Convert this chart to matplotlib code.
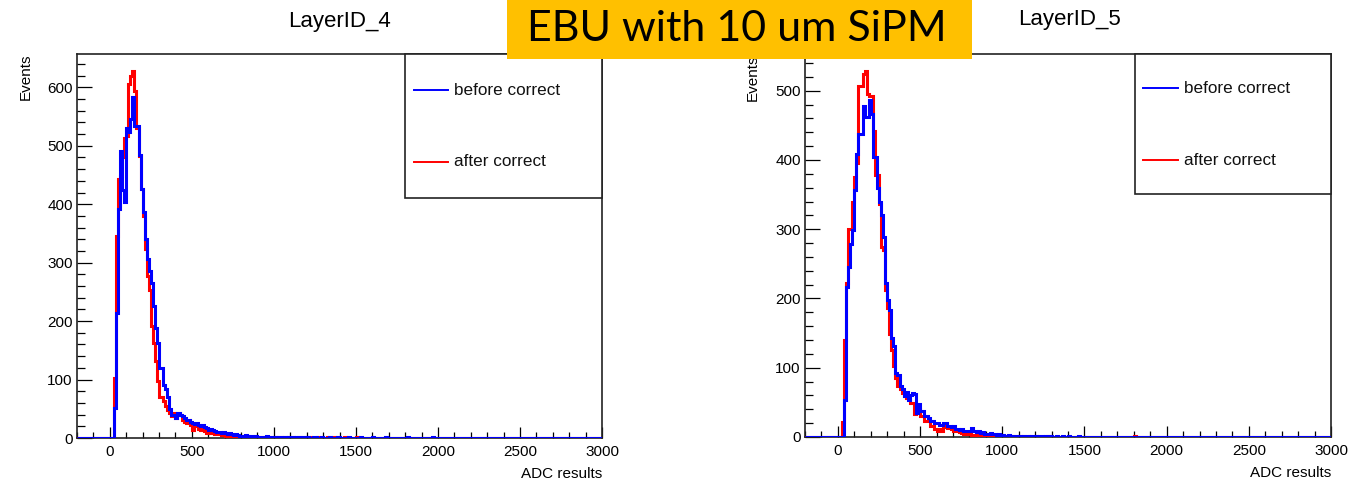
import numpy as np
import matplotlib
matplotlib.use("Agg")
import matplotlib.pyplot as plt
from matplotlib.patches import Rectangle
from matplotlib.ticker import MultipleLocator

plt.rcParams['font.family'] = ['Liberation Sans', 'DejaVu Sans']

# ---------------- data ----------------
x_min, x_max, bin_width = -200.0, 3000.0, 12.5
core_start = 25.0      # first bin edge of the "core" arrays
tail_start = 1000.0    # first bin edge of the "tail" arrays

titles = ["LayerID_4", "LayerID_5"]
legend_labels = ["before correct", "after correct"]
x_label = "ADC results"
y_label = "Events"
banner = "EBU with 10 um SiPM"
x_ticks = [0, 500, 1000, 1500, 2000, 2500, 3000]

# LayerID_4 : counts per 12.5-wide bin, from 25 to 1000
l4_before = [51, 214, 391, 491, 425, 403, 531, 523, 546, 583,
             534, 534, 484, 426, 386, 340, 306, 286, 266, 226,
             189, 163, 120, 120, 91, 83, 71, 49, 40, 40,
             34, 43, 40, 37, 35, 31, 30, 28, 26, 24,
             25, 22, 20, 23, 18, 17, 14, 16, 13, 12,
             11, 10, 9, 11, 8, 7, 8, 6, 5, 6,
             5, 4, 4, 3, 5, 3, 2, 3, 2, 3,
             2, 2, 1, 2, 3, 1, 2, 1]
l4_after = [103, 346, 443, 449, 480, 514, 517, 606, 620, 628,
            594, 531, 483, 426, 380, 323, 277, 254, 191, 163,
            131, 97, 71, 71, 63, 55, 48, 42, 38, 42,
            35, 43, 40, 31, 28, 26, 30, 22, 14, 20,
            23, 16, 14, 15, 12, 9, 10, 8, 9, 6,
            7, 6, 5, 6, 4, 5, 3, 4, 3, 2,
            3, 2, 2, 3, 1, 2, 1, 2, 1, 1,
            2, 1, 0, 1, 1, 0, 1, 0]
# LayerID_4 tails, from 1000 to 2000
l4_before_tail = [1, 2, 1, 1, 2, 1, 0, 1, 1, 1, 0, 1, 0, 2, 1, 0, 1, 0, 0, 1,
                  1, 0, 0, 1, 0, 0, 0, 1, 0, 0, 0, 1, 0, 0, 0, 0, 1, 0, 0, 0,
                  0, 0, 1, 0, 0, 0, 0, 0, 1, 0, 0, 0, 0, 0, 1, 0, 0, 0, 0, 0,
                  0, 0, 0, 0, 0, 1, 0, 0, 0, 0, 0, 0, 0, 0, 0, 0, 0, 1, 0, 0]
l4_after_tail = [1, 0, 1, 1, 0, 1, 1, 0, 0, 1, 0, 0, 1, 0, 0, 1, 0, 1, 0, 0,
                 0, 1, 0, 0, 0, 0, 1, 0, 0, 1, 0, 0, 0, 0, 1, 0, 0, 0, 0, 0,
                 1, 0, 0, 0, 0, 0, 0, 0, 0, 0, 0, 0, 0, 0, 0, 0, 0, 0, 0, 0,
                 0, 0, 0, 0, 0, 0, 0, 0, 0, 0, 0, 0, 0, 0, 0, 0, 0, 0, 0, 0]

# LayerID_5 : counts per 12.5-wide bin, from 25 to 1000
l5_before = [0, 54, 217, 246, 279, 299, 356, 409, 438, 438,
             478, 462, 462, 486, 466, 404, 404, 360, 339, 320,
             289, 222, 198, 184, 143, 131, 93, 90, 73, 69,
             59, 65, 54, 61, 64, 62, 35, 47, 38, 38,
             30, 30, 28, 23, 23, 20, 20, 18, 18, 20,
             20, 16, 16, 14, 16, 11, 11, 10, 11, 9,
             9, 8, 9, 13, 9, 7, 8, 6, 7, 5,
             5, 4, 6, 4, 4, 3, 4, 3]
l5_after = [21, 140, 222, 301, 301, 340, 375, 395, 507, 507,
            524, 529, 495, 493, 493, 442, 378, 378, 337, 275,
            270, 212, 186, 148, 126, 102, 85, 73, 70, 63,
            61, 57, 57, 49, 49, 33, 40, 40, 30, 30,
            23, 23, 23, 16, 16, 12, 9, 11, 9, 17,
            15, 13, 13, 11, 9, 9, 8, 7, 6, 5,
            5, 4, 4, 3, 3, 2, 3, 2, 2, 1,
            2, 1, 1, 1, 1, 0, 1, 0]
# LayerID_5 tails, from 1000 to 2000
l5_before_tail = [3, 2, 2, 3, 1, 2, 2, 1, 2, 1, 1, 2, 1, 0, 1, 1, 1, 0, 1, 1,
                  0, 1, 0, 1, 0, 0, 1, 0, 0, 1, 0, 0, 1, 0, 0, 0, 0, 1, 0, 0,
                  0, 0, 0, 0, 0, 0, 0, 0, 0, 0, 0, 0, 0, 0, 0, 0, 0, 0, 0, 0,
                  0, 0, 0, 0, 0, 0, 0, 0, 0, 0, 0, 0, 0, 0, 0, 0, 0, 0, 0, 0]
l5_after_tail = [1, 1, 2, 1, 0, 1, 1, 0, 1, 0, 1, 0, 0, 1, 0, 0, 1, 0, 0, 0,
                 0, 0, 1, 0, 0, 0, 0, 0, 0, 0, 0, 0, 0, 0, 0, 0, 0, 0, 0, 0,
                 0, 0, 0, 0, 0, 0, 0, 0, 0, 0, 0, 0, 0, 0, 0, 0, 0, 0, 0, 0,
                 0, 0, 0, 0, 1, 0, 0, 0, 0, 0, 0, 0, 0, 0, 0, 0, 0, 0, 0, 0]

y_max = [657, 553]


def full_hist(core, tail):
    n = int(round((x_max - x_min) / bin_width))
    vals = np.zeros(n)
    i0 = int(round((core_start - x_min) / bin_width))
    vals[i0:i0 + len(core)] = core
    j0 = int(round((tail_start - x_min) / bin_width))
    vals[j0:j0 + len(tail)] = tail
    edges = x_min + bin_width * np.arange(n + 1)
    return edges, vals


# ---------------- figure ----------------
W, H = 1369, 484
fig = plt.figure(figsize=(W / 100, H / 100), dpi=100, facecolor='white')

axes_px = [(77, 54, 602, 438), (805, 54, 1331, 437)]
series = [(l4_before, l4_before_tail, l4_after, l4_after_tail),
          (l5_before, l5_before_tail, l5_after, l5_after_tail)]
title_px = [(340, 22), (1069, 20)]
ylab_x = [-0.084, -0.086]

for i in range(2):
    x0, y0, x1, y1 = axes_px[i]
    ax = fig.add_axes([x0 / W, 1 - y1 / H, (x1 - x0) / W, (y1 - y0) / H])
    b_core, b_tail, a_core, a_tail = series[i]
    e, v_after = full_hist(a_core, a_tail)
    e, v_before = full_hist(b_core, b_tail)
    ax.stairs(v_after, e, baseline=None, color='red', linewidth=2.2, zorder=3)
    ax.stairs(v_before, e, baseline=None, color='blue', linewidth=2.2, zorder=4)

    ax.set_xlim(x_min, x_max)
    ax.set_ylim(0, y_max[i])
    ax.set_xticks(x_ticks)
    ax.xaxis.set_minor_locator(MultipleLocator(100))
    ax.yaxis.set_major_locator(MultipleLocator(100))
    ax.yaxis.set_minor_locator(MultipleLocator(20))
    ax.tick_params(which='both', direction='in', top=False, right=False,
                   labelsize=11, colors='black', width=0.9)
    ax.tick_params(axis='x', which='major', length=8, pad=5)
    ax.tick_params(axis='x', which='minor', length=4)
    ax.tick_params(axis='y', which='major', length=11, pad=3)
    ax.tick_params(axis='y', which='minor', length=6)
    for s in ax.spines.values():
        s.set_linewidth(1.2)
        s.set_color('#222222')

    ax.set_xlabel(x_label, loc='right', fontsize=11)
    ax.xaxis.set_label_coords(1.0, -0.076)
    ax.set_ylabel(y_label, loc='top', fontsize=11)
    ax.yaxis.set_label_coords(ylab_x[i], 1.0)

    # legend box (ROOT style)
    lx = 0.625 if i == 0 else 0.627
    lh = 0.375 if i == 0 else 0.366
    ax.add_patch(Rectangle((lx, 1 - lh), 1 - lx, lh, transform=ax.transAxes,
                           facecolor='white', edgecolor='#222222',
                           linewidth=1.2, zorder=6, clip_on=False))
    ly = [0.906, 0.719] if i == 0 else [0.911, 0.723]
    for lab, col, yy in zip(legend_labels, ['blue', 'red'], ly):
        ax.plot([lx + 0.016, lx + 0.082], [yy, yy], transform=ax.transAxes,
                color=col, linewidth=1.4, zorder=7, clip_on=False)
        ax.text(lx + 0.094, yy, lab, transform=ax.transAxes, fontsize=12.3,
                va='center', ha='left', zorder=7, color='#111111')

    tx, ty = title_px[i]
    fig.text(tx / W, 1 - ty / H, titles[i], ha='center', va='center',
             fontsize=16, color='black')

# orange banner
fig.add_artist(Rectangle((507 / W, 1 - 59 / H), 465 / W, 59 / H,
                         transform=fig.transFigure, facecolor='#FFC000',
                         edgecolor='none', zorder=20))
fig.text(737 / W, 1 - 41 / H, banner, ha='center', va='baseline',
         fontsize=31, family=['Lato', 'DejaVu Sans'], color='black', zorder=21)

fig.savefig('out.png', dpi=100, facecolor='white')
